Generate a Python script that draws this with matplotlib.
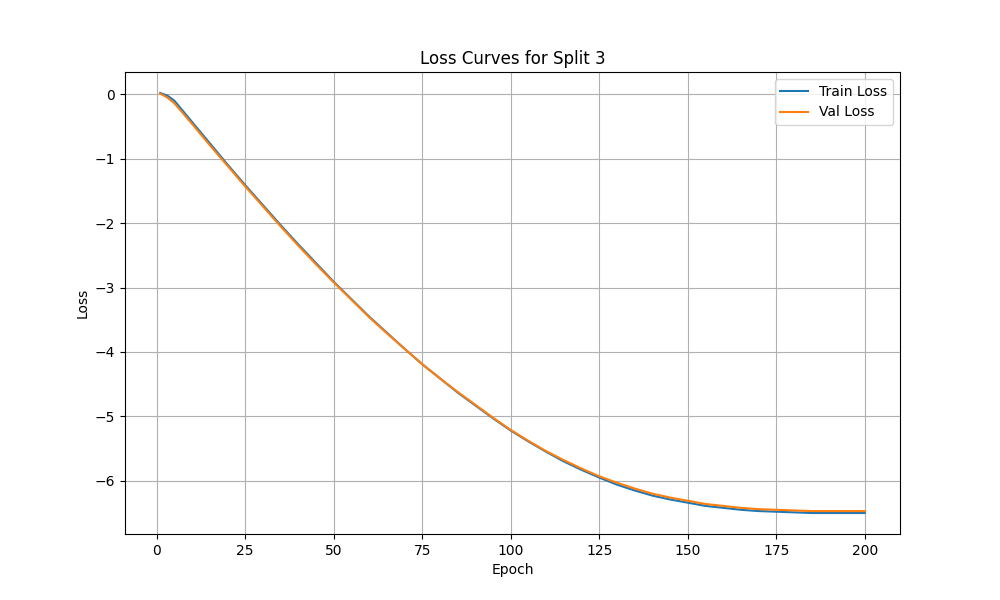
import numpy as np
import matplotlib
matplotlib.use("Agg")
import matplotlib.pyplot as plt

# values at selected epochs
epochs = [1, 3, 5, 10, 15, 20, 25, 30, 35, 40, 45, 50, 55, 60, 65, 70, 75, 80,
          85, 90, 95, 100, 105, 110, 115, 120, 125, 130, 135, 140, 145, 150,
          155, 160, 165, 170, 175, 180, 185, 190, 195, 200]
train_loss = [0.02, -0.02, -0.10, -0.43, -0.76, -1.09, -1.41, -1.72, -2.03,
              -2.33, -2.62, -2.91, -3.18, -3.45, -3.70, -3.95, -4.19, -4.41,
              -4.63, -4.83, -5.03, -5.22, -5.39, -5.55, -5.70, -5.83, -5.95,
              -6.06, -6.15, -6.23, -6.29, -6.34, -6.39, -6.42, -6.45, -6.47,
              -6.48, -6.49, -6.50, -6.50, -6.50, -6.50]
val_loss = [0.01, -0.05, -0.14, -0.46, -0.79, -1.11, -1.43, -1.74, -2.05,
            -2.35, -2.64, -2.92, -3.19, -3.46, -3.71, -3.95, -4.19, -4.41,
            -4.62, -4.82, -5.02, -5.21, -5.38, -5.54, -5.68, -5.81, -5.93,
            -6.03, -6.12, -6.20, -6.26, -6.31, -6.36, -6.39, -6.42, -6.44,
            -6.45, -6.46, -6.47, -6.47, -6.47, -6.47]

plt.figure(figsize=(10, 6))
plt.plot(epochs, train_loss, label="Train Loss")
plt.plot(epochs, val_loss, label="Val Loss")
plt.title("Loss Curves for Split 3")
plt.xlabel("Epoch")
plt.ylabel("Loss")
plt.legend()
plt.grid(True)
plt.savefig("out.png", dpi=100)
